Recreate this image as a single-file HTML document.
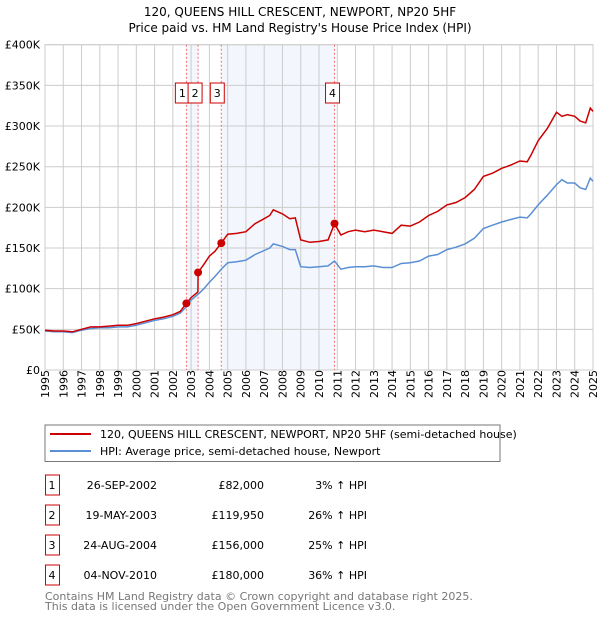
<!DOCTYPE html>
<html><head><meta charset="utf-8">
<style>
body{margin:0;background:#fff;font-family:"DejaVu Sans","Liberation Sans",sans-serif;}
svg text{font-family:"DejaVu Sans","Liberation Sans",sans-serif;}
</style></head>
<body>
<svg id="c" width="600" height="620" xmlns="http://www.w3.org/2000/svg">
<text x="300" y="16" text-anchor="middle" font-size="12">120, QUEENS HILL CRESCENT, NEWPORT, NP20 5HF</text>
<text x="300" y="32" text-anchor="middle" font-size="12">Price paid vs. HM Land Registry's House Price Index (HPI)</text>
<g id="plot"></g>
<rect x="45" y="425" width="455" height="36.5" fill="#fff" stroke="#777"/>
<line x1="50" y1="434" x2="91" y2="434" stroke="#cc0000" stroke-width="2"/>
<text x="100" y="438" font-size="11">120, QUEENS HILL CRESCENT, NEWPORT, NP20 5HF (semi-detached house)</text>
<line x1="50" y1="451" x2="91" y2="451" stroke="#5b8fd4" stroke-width="2"/>
<text x="100" y="455" font-size="11">HPI: Average price, semi-detached house, Newport</text>
<g id="tbl"></g>
<text x="45" y="600" font-size="11" fill="#777">Contains HM Land Registry data © Crown copyright and database right 2025.</text>
<text x="45" y="610" font-size="11" fill="#777">This data is licensed under the Open Government Licence v3.0.</text>
</svg>
<script>
const times=[1995,1995.5,1996,1996.5,1997,1997.5,1998,1998.5,1999,1999.5,2000,2000.5,2001,2001.5,2002,2002.4,2002.74,2003.0,2003.37,2003.38,2003.7,2004,2004.3,2004.65,2005,2005.5,2006,2006.5,2007,2007.3,2007.5,2008,2008.4,2008.7,2009,2009.5,2010,2010.5,2010.85,2011.2,2011.6,2012,2012.5,2013,2013.5,2014,2014.5,2015,2015.5,2016,2016.5,2017,2017.5,2018,2018.5,2019,2019.5,2020,2020.5,2021,2021.4,2021.6,2022,2022.5,2023,2023.3,2023.6,2024,2024.3,2024.6,2024.85,2025];
const hpi=[48,47,47,46,49,51,52,52,53,53,55,58,61,63,66,70,78,86,93,93,100,108,115,124,132,133,135,142,147,150,155,152,148,148,127,126,127,128,134,124,126,127,127,128,126,126,131,132,134,140,142,148,151,155,162,174,178,182,185,188,187,192,203,215,228,234,230,230,224,222,236,232];
const price=[49,48,48,47,50,53,53,54,55,55,57,60,63,65,68,72,82,89,96,119.95,130,140,146,156,167,168,170,180,186,190,197,192,186,187,160,157,158,160,180,166,170,172,170,172,170,168,178,177,182,190,195,203,206,212,222,238,242,248,252,257,256,264,282,297,317,312,314,312,306,304,322,318];
const saleT=[2002.74,2003.38,2004.65,2010.85];
const saleP=[82,119.95,156,180];
const saleLbl=["1","2","3","4"];
const saleDate=["26-SEP-2002","19-MAY-2003","24-AUG-2004","04-NOV-2010"];
const salePrice=["£82,000","£119,950","£156,000","£180,000"];
const saleHpi=["3% ↑ HPI","26% ↑ HPI","25% ↑ HPI","36% ↑ HPI"];
const yTicks=[0,50,100,150,200,250,300,350,400];
const yTickLbl=["£0","£50K","£100K","£150K","£200K","£250K","£300K","£350K","£400K"];
const years=[1995,1996,1997,1998,1999,2000,2001,2002,2003,2004,2005,2006,2007,2008,2009,2010,2011,2012,2013,2014,2015,2016,2017,2018,2019,2020,2021,2022,2023,2024,2025];

const X0=45,X1=593,Y0=370,Y1=44.7;
const xs=t=>X0+(t-1995)/30*(X1-X0);
const ys=v=>Y0-v/400*(Y0-Y1);
const NS="http://www.w3.org/2000/svg";
const plot=document.getElementById('plot');
function mk(tag,attrs,parent){const e=document.createElementNS(NS,tag);for(const k in attrs)e.setAttribute(k,attrs[k]);(parent||plot).appendChild(e);return e;}

for(const [a,b] of [[0,1],[2,3]]){
  const r=mk('rect',{x:xs(saleT[a]),y:Y1,width:xs(saleT[b])-xs(saleT[a]),height:Y0-Y1,fill:'#f3f6fd'});
  
  
}
years.forEach(y=>{const l=mk('line',{x1:xs(y),x2:xs(y),y1:Y1,y2:Y0,stroke:'#ccc','stroke-width':1});
  
  
  const t=mk('text',{x:0,y:0,'font-size':11,transform:`translate(${xs(y)+4},${Y0+28}) rotate(-90)`});
  t.textContent=y;
  
  
});
yTicks.forEach((v,i)=>{const l=mk('line',{x1:X0,x2:X1,y1:ys(v),y2:ys(v),stroke:'#ccc','stroke-width':1});
  
  
  const t=mk('text',{x:40,y:ys(v)+4,'font-size':11,'text-anchor':'end'});
  t.textContent=yTickLbl[i];
  
  
});
const fr=mk('rect',{x:X0,y:Y1,width:X1-X0,height:Y0-Y1,fill:'none',stroke:'#ccc'});


saleT.forEach((t,i)=>{const l=mk('line',{x1:xs(t),x2:xs(t),y1:Y1,y2:Y0,stroke:'#f07070','stroke-width':1,'stroke-dasharray':'2,2'});
  
  
});
function path(vals){return vals.map((v,i)=>(i?'L':'M')+xs(times[i]).toFixed(1)+','+ys(v).toFixed(1)).join('');}
const hp=mk('path',{d:path(hpi),fill:'none',stroke:'#5b8fd4','stroke-width':1.5});


const pp=mk('path',{d:path(price),fill:'none',stroke:'#cc0000','stroke-width':1.5});


saleT.forEach((t,i)=>{const c=mk('circle',{cx:xs(t),cy:ys(saleP[i]),r:4,fill:'#cc0000'});
  
  
});
const boxX=[xs(saleT[0])-11,xs(saleT[1])-10,xs(saleT[2])-11,xs(saleT[3])-9];
saleLbl.forEach((s,i)=>{const g=mk('g',{});
  
  
  mk('rect',{x:boxX[i],y:83,width:14,height:20,fill:'#fff',stroke:'#cc0000'},g);
  const t=mk('text',{x:boxX[i]+7,y:97,'font-size':11,'text-anchor':'middle'},g);t.textContent=s;
});
const tbl=document.getElementById('tbl');
saleLbl.forEach((s,i)=>{const y=475+i*30;
  const g=mk('g',{},tbl);
  
  
  mk('rect',{x:45.5,y:y,width:14,height:20,fill:'#fff',stroke:'#cc0000'},g);
  const cells=[[52,s,'middle'],[157,saleDate[i],'end'],[264,salePrice[i],'end'],[367,saleHpi[i],'end']];
  cells.forEach(c=>{const t=mk('text',{x:c[0],y:y+14,'font-size':11,'text-anchor':c[2]},g);t.textContent=c[1];});
});
</script>
</body></html>
